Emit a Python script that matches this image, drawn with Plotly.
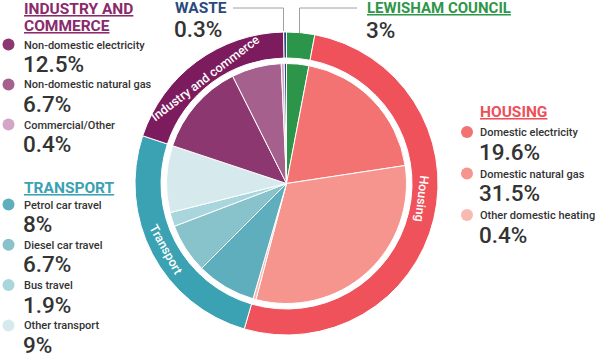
import plotly.graph_objects as go
import math

W, H = 600, 359
FONT = "Roboto"
TXT = "#333333"

# ---------------- data ----------------
group_names = ["Lewisham Council", "Housing", "Transport", "Industry and commerce", "Waste"]
group_colors = ["#2d9549", "#ef525b", "#3aa2b3", "#7c1c5e", "#2b4a7c"]

sub_labels = ["Lewisham Council",
              "Domestic electricity", "Domestic natural gas", "Other domestic heating",
              "Petrol car travel", "Diesel car travel", "Bus travel", "Other transport",
              "Non-domestic electricity", "Non-domestic natural gas", "Commercial/Other",
              "Waste"]
sub_values = [3, 19.6, 31.5, 0.4, 8, 6.7, 1.9, 9, 12.5, 6.7, 0.4, 0.3]
sub_group = [0, 1, 1, 1, 2, 2, 2, 2, 3, 3, 3, 4]
sub_colors = ["#2d9549",
              "#f37272", "#f6948e", "#f8b9b1",
              "#5eaebd", "#88c3cb", "#a9d5dc", "#d6eaed",
              "#8d3771", "#a5608e", "#d4a5c6",
              "#2b4a7c"]
pct_text = ["3%", "19.6%", "31.5%", "0.4%", "8%", "6.7%", "1.9%", "9%",
            "12.5%", "6.7%", "0.4%", "0.3%"]
heading_text = ["LEWISHAM COUNCIL", "HOUSING", "TRANSPORT", "INDUSTRY AND<br>COMMERCE", "WASTE"]
heading_colors = ["#2e9648", "#ee5059", "#3aa2b3", "#8a2a6c", "#2b4a7c"]

group_values = [round(sum(v for v, g in zip(sub_values, sub_group) if g == i), 2)
                for i in range(len(group_names))]

# ---------------- geometry ----------------
CX, CY = 286.5, 183.5
R_OUT, R_HOLE, R_IN = 151.5, 125.5, 120.0


def dom(r):
    return dict(x=[(CX - r) / W, (CX + r) / W],
                y=[(H - CY - r) / H, (H - CY + r) / H])


def px(x):
    return x / W


def py(y):
    return 1 - y / H


fig = go.Figure()
fig.add_trace(go.Pie(values=group_values, labels=group_names, hole=R_HOLE / R_OUT,
                     domain=dom(R_OUT), sort=False, direction="clockwise", rotation=0,
                     marker=dict(colors=group_colors, line=dict(color="white", width=1)),
                     textinfo="none", showlegend=False, hoverinfo="label+value"))
fig.add_trace(go.Pie(values=sub_values, labels=sub_labels,
                     domain=dom(R_IN), sort=False, direction="clockwise", rotation=0,
                     marker=dict(colors=sub_colors, line=dict(color="white", width=1)),
                     textinfo="none", showlegend=False, hoverinfo="label+value"))

annotations = []
shapes = []


def ann(x, y, text, size, color, weight="normal", xanchor="left", under=False):
    annotations.append(dict(x=px(x), y=py(y), xref="paper", yref="paper", text=text,
                            showarrow=False, xanchor=xanchor, yanchor="middle",
                            borderpad=0,
                            font=dict(family=FONT, size=size, color=color, weight=weight,
                                      lineposition="under" if under else "none")))


# ring labels from cumulative angles
total = sum(group_values)
cum = 0.0
ring_r = {"Housing": 136, "Transport": 137, "Industry and commerce": 133}
ring_shift = {"Housing": -7, "Transport": -1, "Industry and commerce": -1}
for name, v in zip(group_names, group_values):
    mid = (cum + v / 2) / total * 360
    cum += v
    if name not in ring_r:
        continue
    a = mid + ring_shift[name]
    r = ring_r[name]
    x = CX + r * math.sin(math.radians(a))
    y = CY - r * math.cos(math.radians(a))
    ta = a
    if 150 < ta < 270:
        ta -= 180
    elif ta >= 270:
        ta -= 360
    annotations.append(dict(x=px(x), y=py(y), xref="paper", yref="paper", text=name,
                            showarrow=False, textangle=ta, xanchor="center", yanchor="middle",
                            font=dict(family=FONT, size=12.5, color="white", weight=500)))


# legend blocks
def block(gi, x_dot, x_txt, head_y, first_y, step, head_lines):
    if head_lines == 2:
        parts = heading_text[gi].split("<br>")
        ann(x_txt - 1, head_y, parts[0], 15.5, heading_colors[gi], weight="bold", under=True)
        ann(x_txt - 1, head_y + 17, parts[1], 15.5, heading_colors[gi], weight="bold", under=True)
    else:
        ann(x_txt - 1, head_y, heading_text[gi], 15.5, heading_colors[gi], weight="bold", under=True)
    idx = [i for i, g in enumerate(sub_group) if g == gi]
    for k, i in enumerate(idx):
        yy = first_y + k * step
        shapes.append(dict(type="circle", xref="paper", yref="paper",
                           x0=px(x_dot - 6), x1=px(x_dot + 6), y0=py(yy - 6), y1=py(yy + 6),
                           fillcolor=sub_colors[i], line=dict(width=0)))
        ann(x_txt - 1, yy + 0.5, sub_labels[i], 11, TXT, weight=500)
        ann(x_txt - 2, yy + 19.5, pct_text[i], 22.5, TXT, weight=500)


block(3, 8.5, 24, 9, 44.5, 40, 2)
block(2, 8.5, 24, 187.5, 204.5, 40.3, 1)
block(1, 467, 480, 112, 132, 41.5, 1)

# top labels
ann(174, 8.5, heading_text[4], 15.5, heading_colors[4], weight="bold")
ann(173, 29, pct_text[11], 22.5, TXT, weight=500)
ann(366, 8.5, heading_text[0], 15, heading_colors[0], weight="bold", under=True)
ann(365, 30, pct_text[0], 22.5, TXT, weight=500)

LC = "#a0a0a0"
for (x0, y0, x1, y1) in [(233, 8, 283.5, 8), (283.5, 8, 283.5, 31),
                         (299.5, 8, 357, 8), (299.5, 8, 299.5, 33)]:
    shapes.append(dict(type="line", xref="paper", yref="paper", x0=px(x0), y0=py(y0),
                       x1=px(x1), y1=py(y1), line=dict(color=LC, width=1), layer="above"))

fig.update_layout(width=W, height=H, margin=dict(l=0, r=0, t=0, b=0),
                  paper_bgcolor="white", plot_bgcolor="white",
                  annotations=annotations, shapes=shapes, showlegend=False)
fig.write_html("out.html", config={"displayModeBar": False},
               post_script="document.body.style.margin='0';document.body.style.overflow='hidden';")
